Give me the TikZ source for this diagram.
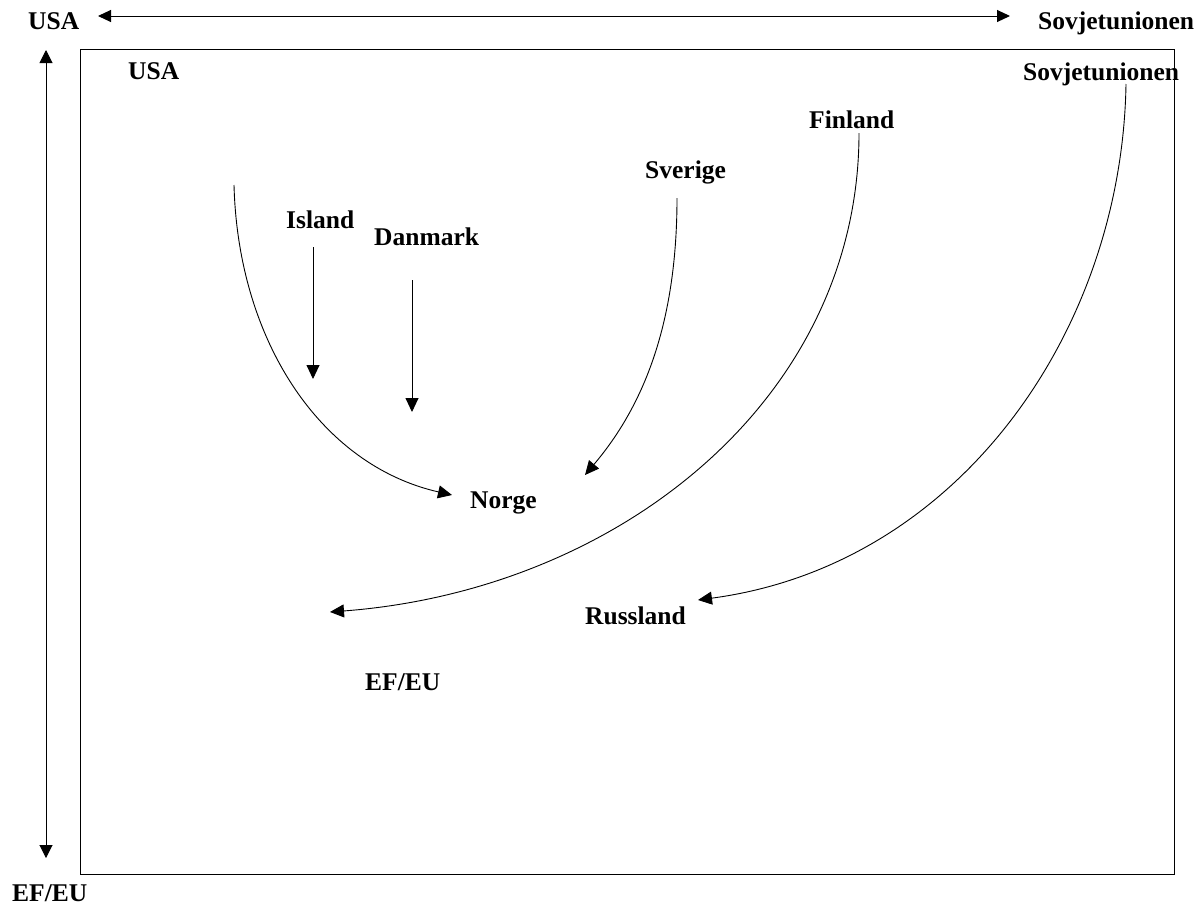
\documentclass[tikz,border=0pt]{standalone}
\usepackage{fontspec}
\setmainfont{Liberation Serif}
\usetikzlibrary{arrows.meta}
\begin{document}
\begin{tikzpicture}[x=1pt,y=-1pt,
  lbl/.style={anchor=base west,inner sep=0pt,font=\fontsize{25.5}{29}\selectfont\bfseries},
  flow/.style={line width=0.9pt,-{Triangle[length=14pt,width=13pt]}}]
\useasboundingbox (0,0) rectangle (1204,908);

% frame
\draw[line width=1pt] (80,49) rectangle (1174,874);

% outer axis labels
\node[lbl] (usaTop) at (28,29) {USA};
\node[lbl] (sovTop) at (1038,29) {Sovjetunionen};
\node[lbl] (efBot) at (12,901) {EF/EU};

% outer axes
\coordinate (hl) at (98,16);
\coordinate (hr) at (1010,16);
\coordinate (vt) at (46,50);
\coordinate (vb) at (46,858);
\draw[line width=1pt,{Triangle[length=13pt,width=12pt]}-{Triangle[length=13pt,width=12pt]}] (hl) -- (hr);
\draw[line width=1pt,{Triangle[length=13pt,width=13pt]}-{Triangle[length=13pt,width=13pt]}] (vt) -- (vb);

% labels inside the frame
\node[lbl] (usa) at (128,79) {USA};
\node[lbl] (sov) at (1023,80) {Sovjetunionen};
\node[lbl] (island) at (286,228) {Island};
\node[lbl] (danmark) at (374,245) {Danmark};
\node[lbl] (sverige) at (645,178) {Sverige};
\node[lbl] (finland) at (809,128) {Finland};
\node[lbl] (norge) at (470,508) {Norge};
\node[lbl] (russland) at (585,624) {Russland};
\node[lbl] (efeu) at (365,690) {EF/EU};

% arrow ends
\coordinate (isS) at (313,247);
\coordinate (isE) at (313,379);
\coordinate (dkS) at (412,280);
\coordinate (dkE) at (412,412);
\coordinate (usS) at (234,185);
\coordinate (usE) at (452,495);
\coordinate (seS) at (677,198);
\coordinate (seE) at (585,475);
\coordinate (fiS) at (859,133);
\coordinate (fiE) at (330,612);
\coordinate (suS) at (1126,84);
\coordinate (suE) at (698,600);

% movements
\draw[flow] (isS) -- (isE);
\draw[flow] (dkS) -- (dkE);
\draw[flow] (usS) .. controls (238,340) and (320,465) .. (usE);
\draw[flow] (seS) .. controls (677,330) and (640,410) .. (seE);
\draw[flow] (fiS) .. controls (859,398) and (620,590) .. (fiE);
\draw[flow] (suS) .. controls (1122,330) and (960,565) .. (suE);
\end{tikzpicture}
\end{document}
